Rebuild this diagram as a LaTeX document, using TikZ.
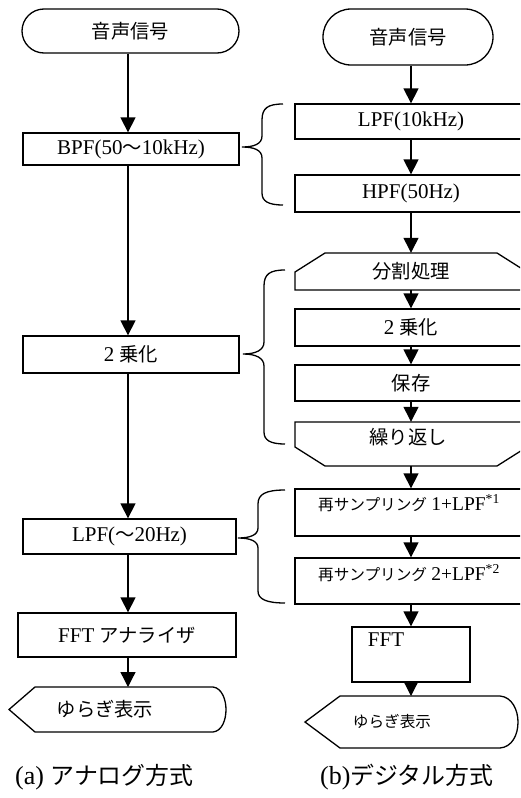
\documentclass[tikz,border=0pt]{standalone}
\usepackage{fontspec}
\setmainfont{Liberation Serif}
\newfontfamily\jp[Scale=0.92]{Noto Sans CJK JP}
\usetikzlibrary{arrows.meta}
\newcommand\J[1]{{\jp #1}}
\newcommand\Lb[1]{{\fontsize{19.5}{22}\selectfont #1}}
\begin{document}
\begin{tikzpicture}[x=1pt,y=-1pt,
  fbox/.style={draw, line width=1.3pt, inner sep=0pt, font=\fontsize{21}{24}\selectfont},
  txt/.style={inner sep=0pt, font=\fontsize{21}{24}\selectfont},
  stxt/.style={inner sep=0pt, font=\fontsize{17}{20}\selectfont},
  shp/.style={draw, line width=1.3pt},
  conn/.style={line width=1.3pt, -{Triangle[width=15pt,length=15pt]}},
  brc/.style={line width=1.3pt},
  captxt/.style={inner sep=0pt, anchor=west, font=\fontsize{26}{30}\selectfont}]
\clip (0,0) rectangle (520,798);
\useasboundingbox (0,0) rectangle (520,798);
\coordinate (colL) at (128,0);
\coordinate (colR) at (411,0);

% ---------- left column ----------
\node[fbox, rounded corners=22pt, minimum width=217pt, minimum height=44pt] (L1) at (130.5,31) {\J{音声信号}};
\node[fbox, minimum width=216pt, minimum height=32pt] (L2) at (131,149) {BPF(50\J{～}10kHz)};
\node[fbox, minimum width=216pt, minimum height=37pt] (L3) at (131,354.5) {2 \J{乗化}};
\node[fbox, minimum width=213pt, minimum height=35pt] (L4) at (129.5,536.5) {LPF(\J{～}20Hz)};
\node[fbox, minimum width=218pt, minimum height=44pt] (L5) at (127,635) {FFT \J{アナライザ}};
\draw[shp] (35,687) -- (213,687) .. controls (222,688) and (226,700) .. (226,709.5) .. controls (226,720) and (222,731) .. (213,732) -- (35,732) -- (9,709.5) -- cycle;
\coordinate (L6) at (128,687);
\node[txt] (L6t) at (105,709) {\J{ゆらぎ表示}};

\draw[conn] (L1.south -| colL) -- (L2.north -| colL);
\draw[conn] (L2.south -| colL) -- (L3.north -| colL);
\draw[conn] (L3.south -| colL) -- (L4.north -| colL);
\draw[conn] (L4.south -| colL) -- (L5.north -| colL);
\draw[conn] (L5.south -| colL) -- (L6);

% ---------- right column ----------
\node[fbox, rounded corners=28pt, minimum width=170pt, minimum height=56pt] (R1) at (408,37) {\J{音声信号}};
\node[fbox, minimum width=232pt, minimum height=35pt] (R2) at (411,121.5) {LPF(10kHz)};
\node[fbox, minimum width=232pt, minimum height=37pt] (R3) at (411,193.5) {HPF(50Hz)};
\draw[shp] (295,290) -- (295,272) -- (325,253) -- (497,253) -- (527,272) -- (527,290) -- cycle;
\node[txt, minimum width=232pt, minimum height=37pt] (R4) at (411,271.5) {\J{分割処理}};
\node[fbox, minimum width=232pt, minimum height=37pt] (R5) at (411,327.5) {2 \J{乗化}};
\node[fbox, minimum width=232pt, minimum height=36pt] (R6) at (411,383) {\J{保存}};
\draw[shp] (295,422) -- (527,422) -- (527,447) -- (497,466) -- (325,466) -- (295,447) -- cycle;
\node[inner sep=0pt, minimum width=232pt, minimum height=44pt] (R7) at (411,444) {};
\node[txt] (R7t) at (408,437) {\J{繰り返し}};
\node[fbox, minimum width=232pt, minimum height=47pt] (R8) at (411,512.5) {};
\node[stxt] (R8t) at (409,503) {\J{再サンプリング} \Lb{1+LPF\textsuperscript{*1}}};
\node[fbox, minimum width=232pt, minimum height=46pt] (R9) at (411,581) {};
\node[stxt] (R9t) at (409,573) {\J{再サンプリング} \Lb{2+LPF\textsuperscript{*2}}};
\node[fbox, minimum width=118pt, minimum height=55pt] (R10) at (411,654.5) {};
\node[txt] (R10t) at (386,640) {FFT};
\draw[shp] (340,696) -- (500,696) .. controls (512,697) and (518,710) .. (518,722) .. controls (518,735) and (512,747) .. (500,748) -- (340,748) -- (305,722) -- cycle;
\coordinate (R11) at (411,696);
\node[stxt] (R11t) at (392,722) {\J{ゆらぎ表示}};

\draw[conn] (R1.south -| colR) -- (R2.north -| colR);
\draw[conn] (R2.south -| colR) -- (R3.north -| colR);
\draw[conn] (R3.south -| colR) -- (R4.north -| colR);
\draw[conn] (R4.south -| colR) -- (R5.north -| colR);
\draw[conn] (R5.south -| colR) -- (R6.north -| colR);
\draw[conn] (R6.south -| colR) -- (R7.north -| colR);
\draw[conn] (R7.south -| colR) -- (R8.north -| colR);
\draw[conn] (R8.south -| colR) -- (R9.north -| colR);
\draw[conn] (R9.south -| colR) -- (R10.north -| colR);
\draw[conn] (R10.south -| colR) -- (R11);

% ---------- braces ----------
\draw[brc] (283,104) .. controls (268,104) and (262,108) .. (262,120) -- (262,136) .. controls (262,144) and (254,147) .. (242,147) .. controls (254,147) and (262,150) .. (262,158) -- (262,193) .. controls (262,201) and (268,205) .. (283,205);
\draw[brc] (285,270) .. controls (270,270) and (264,274) .. (264,286) -- (264,342) .. controls (264,350) and (256,354) .. (243,354) .. controls (256,354) and (264,358) .. (264,366) -- (264,432) .. controls (264,440) and (270,444) .. (285,444);
\draw[brc] (285,490) .. controls (266,490) and (258,494) .. (258,504) -- (258,528) .. controls (258,535) and (250,538) .. (238,538) .. controls (250,538) and (258,541) .. (258,548) -- (258,591) .. controls (258,599) and (266,603) .. (285,603);

% ---------- captions ----------
\node[captxt] (capa) at (15,777) {(a) \J{アナログ方式}};
\node[captxt] (capb) at (320,777) {(b)\J{デジタル方式}};
\end{tikzpicture}
\end{document}
